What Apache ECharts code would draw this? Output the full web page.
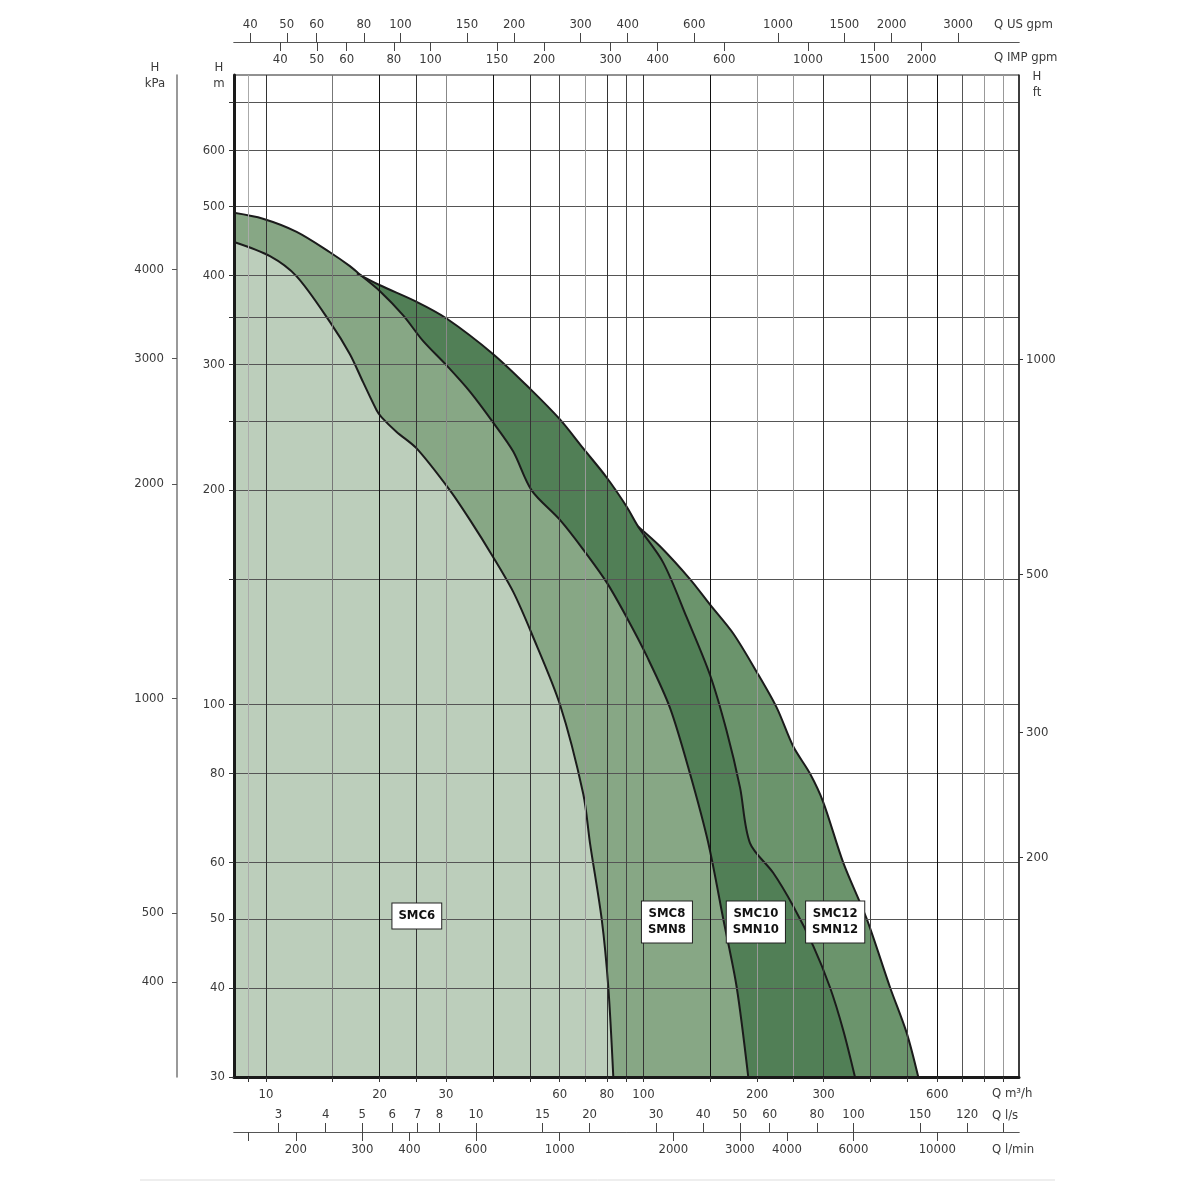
<!DOCTYPE html>
<html>
<head>
<meta charset="utf-8">
<script src="https://cdn.jsdelivr.net/npm/echarts@6/dist/echarts.min.js"></script>
<style>
  html, body { margin: 0; padding: 0; background: #fff; }
  #chart { width: 1181px; height: 1181px; }
</style>
</head>
<body>
<div id="chart"></div>
<script>
var FONT = "'Liberation Sans Narrow', 'DejaVu Sans Condensed', 'Liberation Sans', sans-serif";

// pump curves: Q in m3/h, H in m
var smc6Q = [8.23, 10.25, 12.06, 14.77, 16.69, 18.1, 19.64, 20.23, 22.19, 25.07, 30.72, 34.7, 40.0, 45.19, 50.56, 60.09, 69.27, 72.17, 77.5, 80.7, 83.2];
var smc6H = [446, 426, 399, 344.5, 310.3, 283.2, 258.9, 253.2, 241.3, 228.8, 199.8, 181.6, 161, 143.9, 125.8, 100, 74.9, 63.9, 50, 40.1, 30];

var smc8Q = [8.23, 9.82, 12.06, 14.77, 16.69, 17.74, 20.05, 23.1, 26.1, 30.1, 34.7, 40.0, 45.19, 50.56, 60.09, 69.27, 79.9, 90.3, 102.0, 117.5, 132.8, 148.5, 162.7, 176.6, 189.5];
var smc8H = [490, 480.7, 460.7, 431.4, 412.4, 401.4, 380.3, 351.7, 323.6, 299.2, 274.9, 248.7, 226.5, 199.8, 181.6, 165, 148.4, 132.5, 117, 99, 80, 63.9, 50, 40.1, 30];

var smc10Q = [17.42, 20.05, 25.07, 30.1, 40.0, 50.03, 60.09, 69.27, 79.9, 90.3, 96.87, 112.8, 130.2, 150.1, 166.1, 180.2, 191.5, 220.8, 249.4, 281.8, 311.9, 338.2, 363.3];
var smc10H = [403, 387.7, 367.5, 348.2, 310.3, 277.6, 251.3, 228.8, 208.3, 189.5, 177.7, 158.2, 132.5, 110, 91.8, 76.5, 63.9, 58, 52.1, 45.8, 40.1, 34.9, 30];

var smc12Q = [96.87, 110.6, 132.8, 150.1, 172.9, 199.5, 225.4, 249.4, 276.1, 299.5, 338.2, 390.3, 449.8, 498, 534.5];
var smc12H = [177.7, 166.8, 150, 138.1, 125.8, 111.1, 99, 87.3, 80, 72.9, 60, 50, 40.1, 34.6, 30];

// model boxes
var boxNames = ['SMC6', 'SMC8\nSMN8', 'SMC10\nSMN10', 'SMC12\nSMN12'];
var boxQ = [25.1, 115.4, 198.5, 322];
var boxH = [50.5, 49.5, 49.5, 49.5];

// axis ranges
var qMin = 8.23, qMax = 988;
var hMin = 30, hMax = 765;

// ticks
var m3hGrid = [9, 10, 15, 20, 25, 30, 40, 50, 60, 70, 80, 90, 100, 150, 200, 250, 300, 400, 500, 600, 700, 800, 900];
var m3hLabels = [10, 20, 30, 60, 80, 100, 200, 300, 600];
var lsTicks = [3, 4, 5, 6, 7, 8, 10, 15, 20, 30, 40, 50, 60, 80, 100, 150, 200, 250];
var lsLabelVals = [3, 4, 5, 6, 7, 8, 10, 15, 20, 30, 40, 50, 60, 80, 100, 150, 200];
var lsLabelText = ['3', '4', '5', '6', '7', '8', '10', '15', '20', '30', '40', '50', '60', '80', '100', '150', '120'];
var lminTicks = [150, 200, 300, 400, 600, 1000, 2000, 3000, 4000, 6000, 10000];
var lminLabels = [200, 300, 400, 600, 1000, 2000, 3000, 4000, 6000, 10000];
var usTicks = [40, 50, 60, 80, 100, 150, 200, 300, 400, 600, 1000, 1500, 2000, 3000];
var impTicks = [40, 50, 60, 80, 100, 150, 200, 300, 400, 600, 1000, 1500, 2000];
var hGrid = [30, 40, 50, 60, 80, 100, 150, 200, 250, 300, 350, 400, 500, 600, 700];
var hLabels = [30, 40, 50, 60, 80, 100, 200, 300, 400, 500, 600];
var kpaTicks = [400, 500, 1000, 2000, 3000, 4000];
var ftTicks = [200, 300, 500, 1000];

var vColors = ['#aaa', '#333', '#777', '#111', '#333', '#888', '#111', '#333', '#444', '#999', '#333', '#444',
               '#333', '#111', '#999', '#999', '#333', '#444', '#444', '#111', '#555', '#999', '#999'];

function pairs(q, h) {
  return q.map(function (v, i) { return [v, h[i]]; });
}
function num(v) {
  return String(Math.round(v));
}

var txt = { color: '#3a3a3a', fontFamily: FONT, fontSize: 13 };

function extraX(pos, offset, k, ticks, labels, inside, fmt) {
  return {
    type: 'log', position: pos, offset: offset, gridIndex: 0,
    min: qMin * k, max: qMax * k, z: 3,
    axisLine: { show: true, onZero: false, lineStyle: { color: '#555', width: 1 } },
    axisTick: { show: true, inside: inside, length: 9, customValues: ticks, lineStyle: { color: '#444' } },
    axisLabel: Object.assign({ inside: inside, margin: 11, customValues: labels, formatter: fmt || num }, txt),
    splitLine: { show: false }
  };
}

function seriesOf(name, q, h, fill) {
  return {
    name: name, type: 'line', xAxisIndex: 0, yAxisIndex: 0, z: 2,
    data: pairs(q, h), smooth: 0.3, symbol: 'none', silent: true,
    lineStyle: { color: '#1b1b1b', width: 2 },
    areaStyle: { color: fill, opacity: 1, origin: 'start' }
  };
}

var chart = echarts.init(document.getElementById('chart'));
chart.setOption({
  animation: false,
  backgroundColor: '#fff',
  textStyle: { fontFamily: FONT },
  grid: { left: 234, top: 75, width: 785, height: 1002, show: true, borderColor: '#222', borderWidth: 1, backgroundColor: 'transparent' },
  xAxis: [
    {
      type: 'log', position: 'bottom', min: qMin, max: qMax, z: 3,
      axisLine: { onZero: false, lineStyle: { color: '#1a1a1a', width: 3 } },
      axisTick: { length: 5, customValues: m3hGrid, lineStyle: { color: '#333' } },
      axisLabel: Object.assign({ margin: 11, customValues: m3hLabels, formatter: num }, txt),
      splitLine: { show: true, lineStyle: { color: vColors, width: 1 } }
    },
    extraX('bottom', 55, 1 / 3.6, lsTicks, lsLabelVals, true, function (v) {
      var i = lsLabelVals.indexOf(Math.round(v));
      return i >= 0 ? lsLabelText[i] : '';
    }),
    extraX('bottom', 55, 60 / 3.6, lminTicks, lminLabels, false),
    extraX('top', 33, 4.40287, usTicks, usTicks, false),
    extraX('top', 33, 3.66615, impTicks, impTicks, true)
  ],
  yAxis: [
    {
      type: 'log', position: 'left', min: hMin, max: hMax, z: 3,
      axisLine: { onZero: false, lineStyle: { color: '#1a1a1a', width: 3 } },
      axisTick: { length: 5, customValues: hGrid, lineStyle: { color: '#333' } },
      axisLabel: Object.assign({ margin: 9, customValues: hLabels, formatter: num }, txt),
      splitLine: { show: true, lineStyle: { color: '#555', width: 1 } }
    },
    {
      type: 'log', position: 'left', offset: 57, min: hMin * 9.80665, max: hMax * 9.80665, z: 3,
      axisLine: { show: true, onZero: false, lineStyle: { color: '#777', width: 1.5 } },
      axisTick: { length: 5, customValues: kpaTicks, lineStyle: { color: '#555' } },
      axisLabel: Object.assign({ margin: 13, customValues: kpaTicks, formatter: num }, txt),
      splitLine: { show: false }
    },
    {
      type: 'log', position: 'right', min: hMin * 3.28084, max: hMax * 3.28084, z: 3,
      axisLine: { show: true, onZero: false, lineStyle: { color: '#222', width: 1.5 } },
      axisTick: { length: 4, customValues: ftTicks, lineStyle: { color: '#333' } },
      axisLabel: Object.assign({ margin: 7, customValues: ftTicks, formatter: num }, txt),
      splitLine: { show: false }
    }
  ],
  series: [
    seriesOf('SMC12', smc12Q, smc12H, '#6b946c'),
    seriesOf('SMC10', smc10Q, smc10H, '#517f56'),
    seriesOf('SMC8', smc8Q, smc8H, '#87a785'),
    seriesOf('SMC6', smc6Q, smc6H, '#bccebb'),
    {
      type: 'scatter', xAxisIndex: 0, yAxisIndex: 0, z: 5, silent: true,
      symbolSize: 1, itemStyle: { color: 'rgba(0,0,0,0)', opacity: 1 },
      data: boxQ.map(function (q, i) { return { value: [q, boxH[i]], name: boxNames[i] }; }),
      label: {
        show: true, position: 'inside', formatter: function (p) { return p.name; },
        backgroundColor: '#ffffff', borderColor: '#222', borderWidth: 1, padding: [5, 6, 4, 6],
        color: '#111', fontWeight: 'bold', fontSize: 13, lineHeight: 16, fontFamily: FONT, opacity: 1
      }
    }
  ],
  graphic: [
    { type: 'text', x: 155, y: 76, style: { text: 'H\nkPa', fill: '#3a3a3a', font: '13px ' + FONT, textAlign: 'center', textVerticalAlign: 'middle', lineHeight: 16 } },
    { type: 'text', x: 219, y: 76, style: { text: 'H\nm', fill: '#3a3a3a', font: '13px ' + FONT, textAlign: 'center', textVerticalAlign: 'middle', lineHeight: 16 } },
    { type: 'text', x: 1037, y: 85, style: { text: 'H\nft', fill: '#3a3a3a', font: '13px ' + FONT, textAlign: 'center', textVerticalAlign: 'middle', lineHeight: 16 } },
    { type: 'text', x: 994, y: 25, style: { text: 'Q US gpm', fill: '#3a3a3a', font: '13px ' + FONT, textAlign: 'left', textVerticalAlign: 'middle' } },
    { type: 'text', x: 994, y: 58, style: { text: 'Q IMP gpm', fill: '#3a3a3a', font: '13px ' + FONT, textAlign: 'left', textVerticalAlign: 'middle' } },
    { type: 'text', x: 992, y: 1094, style: { text: 'Q m³/h', fill: '#3a3a3a', font: '13px ' + FONT, textAlign: 'left', textVerticalAlign: 'middle' } },
    { type: 'text', x: 992, y: 1116, style: { text: 'Q l/s', fill: '#3a3a3a', font: '13px ' + FONT, textAlign: 'left', textVerticalAlign: 'middle' } },
    { type: 'text', x: 992, y: 1150, style: { text: 'Q l/min', fill: '#3a3a3a', font: '13px ' + FONT, textAlign: 'left', textVerticalAlign: 'middle' } },
    { type: 'line', shape: { x1: 140, y1: 1180, x2: 1055, y2: 1180 }, style: { stroke: '#ddd', lineWidth: 1 } }
  ]
});
</script>
</body>
</html>
